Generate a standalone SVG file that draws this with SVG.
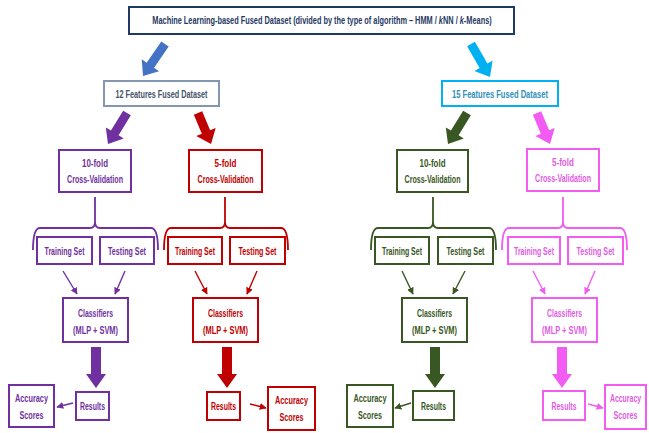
<svg xmlns="http://www.w3.org/2000/svg" width="649" height="433" viewBox="0 0 649 433">
<defs>
<style>
text{font-family:"Liberation Sans Narrow","Liberation Sans",Arial,sans-serif;font-size:11px;font-weight:bold;text-anchor:middle;dominant-baseline:central}
.box{fill:#fff;stroke-width:2}
.pu .box{stroke:#7030A0}.pu text{fill:#7030A0}
.rd .box{stroke:#C00000}.rd text{fill:#C00000}
.gr .box{stroke:#385723}.gr text{fill:#385723}
.mg .box{stroke:#F25CF2}.mg text{fill:#E25CE2}
.thin{fill:none;stroke-width:1.4}
.brace{fill:none;stroke-width:1.8}
</style>
<marker id="mpu" viewBox="0 0 10 10" refX="9" refY="5" markerWidth="5" markerHeight="5" orient="auto"><path d="M0,0 L10,5 L0,10 z" fill="#7030A0"/></marker>
<marker id="mrd" viewBox="0 0 10 10" refX="9" refY="5" markerWidth="5" markerHeight="5" orient="auto"><path d="M0,0 L10,5 L0,10 z" fill="#C00000"/></marker>
<marker id="mgr" viewBox="0 0 10 10" refX="9" refY="5" markerWidth="5" markerHeight="5" orient="auto"><path d="M0,0 L10,5 L0,10 z" fill="#385723"/></marker>
<marker id="mmg" viewBox="0 0 10 10" refX="9" refY="5" markerWidth="5" markerHeight="5" orient="auto"><path d="M0,0 L10,5 L0,10 z" fill="#F25CF2"/></marker>
</defs>
<rect width="649" height="433" fill="#fff"/>

<g id="connectors">
  <polygon transform="translate(165,44) rotate(124.5)" points="0,-4.5 25.8,-4.5 25.8,-10.5 38.8,0 25.8,10.5 25.8,4.5 0,4.5" fill="#4472C4"/>
  <polygon transform="translate(471,44) rotate(60.1)" points="0,-4.5 25.1,-4.5 25.1,-10.5 38.1,0 25.1,10.5 25.1,4.5 0,4.5" fill="#00B0F0"/>
  <polygon transform="translate(127,113) rotate(121.5)" points="0,-4.5 23.4,-4.5 23.4,-10.5 36.4,0 23.4,10.5 23.4,4.5 0,4.5" fill="#7030A0"/>
  <polygon transform="translate(198,113) rotate(67.2)" points="0,-4.5 20.6,-4.5 20.6,-10.5 33.6,0 20.6,10.5 20.6,4.5 0,4.5" fill="#C00000"/>
  <polygon transform="translate(467,113) rotate(121.5)" points="0,-4.5 23.4,-4.5 23.4,-10.5 36.4,0 23.4,10.5 23.4,4.5 0,4.5" fill="#385723"/>
  <polygon transform="translate(537,113) rotate(67.2)" points="0,-4.5 20.6,-4.5 20.6,-10.5 33.6,0 20.6,10.5 20.6,4.5 0,4.5" fill="#F25CF2"/>
  <path class="brace" stroke="#7030A0" d="M33,250 Q33,228 40,228 L90,228 Q95,228 95,222 L95,197 M95,222 Q95,228 100,228 L151,228 Q158,228 158,250"/>
  <path class="brace" stroke="#C00000" d="M164,250 Q164,228 171,228 L220,228 Q225,228 225,222 L225,197 M225,222 Q225,228 230,228 L281,228 Q288,228 288,250"/>
  <path class="brace" stroke="#385723" d="M371,250 Q371,228 378,228 L428,228 Q433,228 433,222 L433,197 M433,222 Q433,228 438,228 L489,228 Q496,228 496,250"/>
  <path class="brace" stroke="#F25CF2" d="M502,250 Q502,228 509,228 L558,228 Q563,228 563,222 L563,197 M563,222 Q563,228 568,228 L620,228 Q627,228 627,250"/>
  <path class="thin" stroke="#7030A0" marker-end="url(#mpu)" d="M63,271 L77,294"/>
  <path class="thin" stroke="#7030A0" marker-end="url(#mpu)" d="M125,271 L115,294"/>
  <path class="thin" stroke="#C00000" marker-end="url(#mrd)" d="M195,271 L207,294"/>
  <path class="thin" stroke="#C00000" marker-end="url(#mrd)" d="M257,271 L247,294"/>
  <path class="thin" stroke="#385723" marker-end="url(#mgr)" d="M402,271 L413,294"/>
  <path class="thin" stroke="#385723" marker-end="url(#mgr)" d="M465,271 L453,294"/>
  <path class="thin" stroke="#F25CF2" marker-end="url(#mmg)" d="M533,271 L545,294"/>
  <path class="thin" stroke="#F25CF2" marker-end="url(#mmg)" d="M595,271 L585,294"/>
  <polygon points="91,347 101,347 101,374 106,374 96,388 86,374 91,374" fill="#7030A0"/>
  <polygon points="222,347 232,347 232,374 237,374 227,388 217,374 222,374" fill="#C00000"/>
  <polygon points="430,347 440,347 440,374 445,374 435,388 425,374 430,374" fill="#385723"/>
  <polygon points="557,347 567,347 567,374 572,374 562,388 552,374 557,374" fill="#F25CF2"/>
  <path class="thin" stroke="#7030A0" marker-end="url(#mpu)" d="M73,403 L57,407"/>
  <path class="thin" stroke="#C00000" marker-end="url(#mrd)" d="M250,404 L266,408"/>
  <path class="thin" stroke="#385723" marker-end="url(#mgr)" d="M411,403 L395,408"/>
  <path class="thin" stroke="#F25CF2" marker-end="url(#mmg)" d="M588,404 L603,408"/>
</g>

<g id="top">
  <rect x="129" y="7" width="385" height="27" fill="#fff" stroke="#1F3864" stroke-width="2"/>
  <text transform="translate(322,20.5) scale(0.67,1)" x="0" y="0" fill="#1F3864">Machine Learning-based Fused Dataset (divided by the type of algorithm – HMM / <tspan font-style="italic">k</tspan>NN / <tspan font-style="italic">k</tspan>-Means)</text>
</g>
<g id="ds12">
  <rect x="104" y="81" width="115" height="25" fill="#fff" stroke="#8497B0" stroke-width="2"/>
  <text x="161.5" y="93.5" fill="#44546A" textLength="92" lengthAdjust="spacingAndGlyphs">12 Features Fused Dataset</text>
</g>
<g id="ds15">
  <rect x="442" y="81" width="116" height="25" fill="#fff" stroke="#00B0F0" stroke-width="2"/>
  <text x="500" y="93.5" fill="#2F8FB8" textLength="96" lengthAdjust="spacingAndGlyphs">15 Features Fused Dataset</text>
</g>

<g id="cv10a" class="pu"><rect class="box" x="59" y="150" width="72" height="42"/><text x="95" y="163" textLength="26" lengthAdjust="spacingAndGlyphs">10-fold</text><text x="95" y="179" textLength="56" lengthAdjust="spacingAndGlyphs">Cross-Validation</text></g>
<g id="traina" class="pu"><rect class="box" x="37" y="237" width="55" height="27"/><text x="64.5" y="250.5" textLength="40" lengthAdjust="spacingAndGlyphs">Training Set</text></g>
<g id="testa" class="pu"><rect class="box" x="100" y="237" width="54" height="27"/><text x="127" y="250.5" textLength="38" lengthAdjust="spacingAndGlyphs">Testing Set</text></g>
<g id="clsa" class="pu"><rect class="box" x="63" y="298" width="65" height="44"/><text x="95.5" y="313" textLength="35" lengthAdjust="spacingAndGlyphs">Classifiers</text><text x="95.5" y="330" textLength="45" lengthAdjust="spacingAndGlyphs">(MLP + SVM)</text></g>
<g id="resa" class="pu"><rect class="box" x="76" y="392" width="33" height="28"/><text x="92.5" y="406" textLength="25" lengthAdjust="spacingAndGlyphs">Results</text></g>
<g id="acca" class="pu"><rect class="box" x="9" y="385" width="45" height="42"/><text x="31.5" y="397.5" textLength="33" lengthAdjust="spacingAndGlyphs">Accuracy</text><text x="31.5" y="414.5" textLength="24" lengthAdjust="spacingAndGlyphs">Scores</text></g>

<g id="cv5a" class="rd"><rect class="box" x="189" y="150" width="73" height="42"/><text x="225.5" y="163" textLength="22" lengthAdjust="spacingAndGlyphs">5-fold</text><text x="225.5" y="179" textLength="56" lengthAdjust="spacingAndGlyphs">Cross-Validation</text></g>
<g id="trainb" class="rd"><rect class="box" x="168" y="237" width="54" height="27"/><text x="195" y="250.5" textLength="40" lengthAdjust="spacingAndGlyphs">Training Set</text></g>
<g id="testb" class="rd"><rect class="box" x="230" y="237" width="55" height="27"/><text x="257.5" y="250.5" textLength="38" lengthAdjust="spacingAndGlyphs">Testing Set</text></g>
<g id="clsb" class="rd"><rect class="box" x="193" y="298" width="65" height="44"/><text x="225.5" y="313" textLength="35" lengthAdjust="spacingAndGlyphs">Classifiers</text><text x="225.5" y="330" textLength="45" lengthAdjust="spacingAndGlyphs">(MLP + SVM)</text></g>
<g id="resb" class="rd"><rect class="box" x="207" y="392" width="33" height="28"/><text x="223.5" y="406" textLength="25" lengthAdjust="spacingAndGlyphs">Results</text></g>
<g id="accb" class="rd"><rect class="box" x="268" y="387" width="47" height="43"/><text x="291.5" y="400" textLength="33" lengthAdjust="spacingAndGlyphs">Accuracy</text><text x="291.5" y="417" textLength="24" lengthAdjust="spacingAndGlyphs">Scores</text></g>

<g id="cv10b" class="gr"><rect class="box" x="397" y="150" width="71" height="42"/><text x="432.5" y="163" textLength="26" lengthAdjust="spacingAndGlyphs">10-fold</text><text x="432.5" y="179" textLength="56" lengthAdjust="spacingAndGlyphs">Cross-Validation</text></g>
<g id="trainc" class="gr"><rect class="box" x="375" y="237" width="54" height="27"/><text x="402" y="250.5" textLength="40" lengthAdjust="spacingAndGlyphs">Training Set</text></g>
<g id="testc" class="gr"><rect class="box" x="438" y="237" width="55" height="27"/><text x="465.5" y="250.5" textLength="38" lengthAdjust="spacingAndGlyphs">Testing Set</text></g>
<g id="clsc" class="gr"><rect class="box" x="402" y="298" width="65" height="44"/><text x="434.5" y="313" textLength="35" lengthAdjust="spacingAndGlyphs">Classifiers</text><text x="434.5" y="330" textLength="45" lengthAdjust="spacingAndGlyphs">(MLP + SVM)</text></g>
<g id="resc" class="gr"><rect class="box" x="413" y="391" width="41" height="29"/><text x="433.5" y="405.5" textLength="25" lengthAdjust="spacingAndGlyphs">Results</text></g>
<g id="accc" class="gr"><rect class="box" x="347" y="385" width="46" height="42"/><text x="370" y="397.5" textLength="33" lengthAdjust="spacingAndGlyphs">Accuracy</text><text x="370" y="414.5" textLength="24" lengthAdjust="spacingAndGlyphs">Scores</text></g>

<g id="cv5b" class="mg"><rect class="box" x="527" y="149" width="72" height="42"/><text x="563" y="162" textLength="22" lengthAdjust="spacingAndGlyphs">5-fold</text><text x="563" y="178" textLength="56" lengthAdjust="spacingAndGlyphs">Cross-Validation</text></g>
<g id="traind" class="mg"><rect class="box" x="508" y="237" width="52" height="27"/><text x="534" y="250.5" textLength="40" lengthAdjust="spacingAndGlyphs">Training Set</text></g>
<g id="testd" class="mg"><rect class="box" x="568" y="237" width="55" height="27"/><text x="595.5" y="250.5" textLength="38" lengthAdjust="spacingAndGlyphs">Testing Set</text></g>
<g id="clsd" class="mg"><rect class="box" x="532" y="298" width="65" height="44"/><text x="564.5" y="313" textLength="35" lengthAdjust="spacingAndGlyphs">Classifiers</text><text x="564.5" y="330" textLength="45" lengthAdjust="spacingAndGlyphs">(MLP + SVM)</text></g>
<g id="resd" class="mg"><rect class="box" x="543" y="391" width="42" height="29"/><text x="564" y="405.5" textLength="25" lengthAdjust="spacingAndGlyphs">Results</text></g>
<g id="accd" class="mg"><rect class="box" x="605" y="385" width="41" height="44"/><text transform="translate(625.5,398.5) scale(0.63,1)" x="0" y="0">Accuracy</text><text transform="translate(625.5,415.5) scale(0.65,1)" x="0" y="0">Scores</text></g>
</svg>
